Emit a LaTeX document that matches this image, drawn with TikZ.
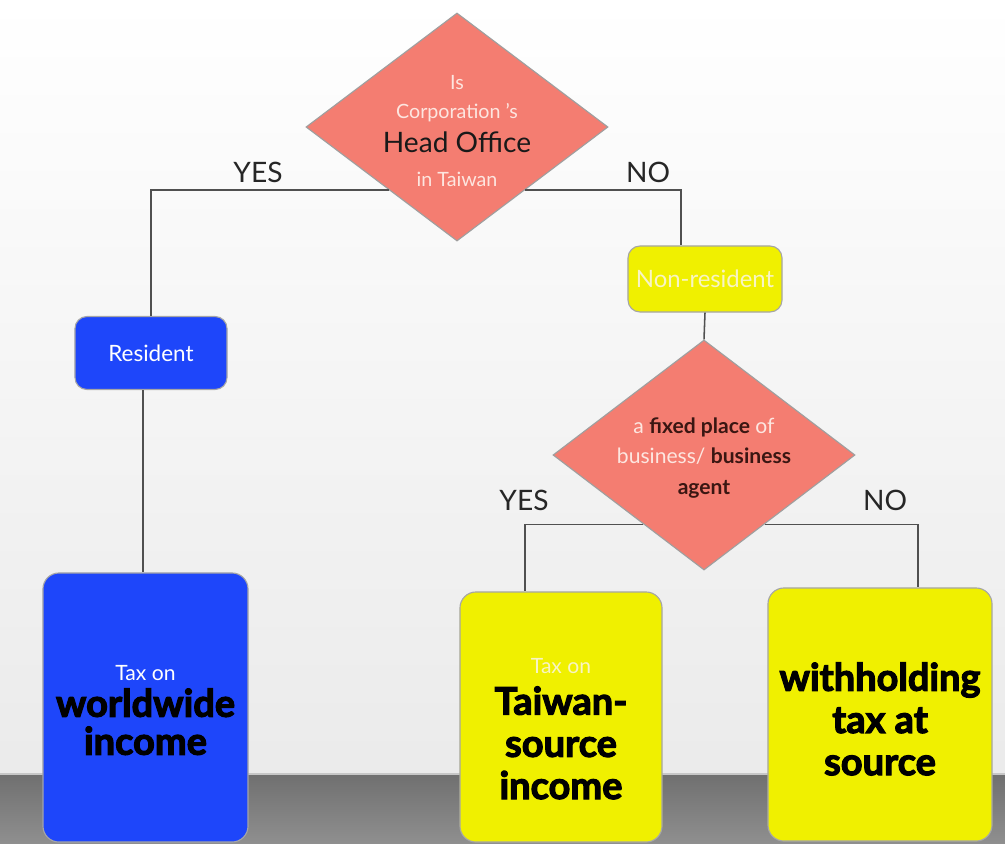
\documentclass[tikz,border=0pt]{standalone}
\usepackage{fontspec}
\setmainfont{Lato}
\newfontfamily\heavyfont{Lato}[FakeBold=3]
\usetikzlibrary{positioning, shapes.geometric, calc}

\definecolor{salmon}{HTML}{F47D71}
\definecolor{resblue}{HTML}{1E46FA}
\definecolor{boxyellow}{HTML}{F0F000}
\definecolor{palepink}{HTML}{FDE6E0}
\definecolor{paleyellow}{HTML}{F8F4C4}
\definecolor{darkred}{HTML}{3A1612}
\definecolor{linegray}{HTML}{505050}

\tikzset{
  decision/.style={diamond, draw=gray!75, line width=0.8pt, fill=salmon,
                   minimum width=7.55cm, minimum height=5.7cm, inner sep=0pt},
  smallbox/.style={rectangle, rounded corners=0.3cm, draw=gray!70, line width=0.8pt},
  bigbox/.style={rectangle, rounded corners=0.4cm, draw=gray!70, line width=0.8pt},
  heavy/.style={font=\heavyfont\bfseries\fontsize{27}{30}\selectfont, text=black},
  answer/.style={font=\fontsize{20}{24}\selectfont, text=black!85},
  link/.style={line width=1.1pt, draw=linegray}
}
\newcommand{\taxon}[1]{{\normalfont\fontsize{15}{16}\selectfont\color{#1}Tax on}}

\begin{document}
\begin{tikzpicture}[x=0.025cm, y=-0.025cm]
    \useasboundingbox (0,0) rectangle (1005,843);
    \clip (0,0) rectangle (1005,843);
    %% backdrop
    \shade[top color=white, bottom color=black!8] (0,0) rectangle (1005,775);
    \shade[top color=black!56, bottom color=black!44] (0,775) rectangle (1005,843);
    \draw[black!22, line width=0.8pt] (0,774) -- (1005,774);

    %% decisions
    \draw (457,127) node[decision] (q1) {}
          (457,131) node[align=center, font=\fontsize{14}{21}\selectfont] (q1txt)
              {\color{palepink}Is\\
               \color{palepink}Corporation 's\\[3pt]
               {\fontsize{20}{24}\selectfont\color{black!90}Head Office}\\[3pt]
               \color{palepink}in Taiwan};
    \draw (704,455) node[decision, minimum height=5.75cm] (q2) {}
          (704,458) node[align=center, font=\fontsize{15}{21.5}\selectfont] (q2txt)
              {{\color{palepink}a} {\bfseries\color{darkred}fixed place} {\color{palepink}of}\\
               {\color{palepink}business/} {\bfseries\color{darkred}business}\\
               {\bfseries\color{darkred}agent}};

    %% status boxes
    \draw (151,353) node[smallbox, fill=resblue, minimum width=3.8cm, minimum height=1.825cm,
                         text=white, font=\fontsize{16}{19}\selectfont] (res) {Resident}
          (705,279) node[smallbox, fill=boxyellow, minimum width=3.85cm, minimum height=1.65cm,
                         text=paleyellow, font=\fontsize{17}{20}\selectfont] (nonres) {Non-resident};

    %% outcome boxes
    \draw (145.5,707.5) node[bigbox, fill=resblue, minimum width=5.125cm, minimum height=6.725cm] (ww) {}
          (145.5,710) node[align=center, heavy, font=\heavyfont\bfseries\fontsize{27}{27}\selectfont] (wwtxt)
              {\taxon{white}\\[-1pt] worldwide\\ income}
          (561,717) node[bigbox, fill=boxyellow, minimum width=5.05cm, minimum height=6.25cm] (ts) {}
          (561,729) node[align=center, heavy] (tstxt)
              {\taxon{paleyellow}\\[-1pt] Taiwan-\\ source\\ income}
          (880,714.5) node[bigbox, fill=boxyellow, minimum width=5.6cm, minimum height=6.325cm] (wh) {}
          (880,719) node[align=center, heavy] (whtxt)
              {withholding\\ tax at\\ source};

    %% answers
    \draw (258,172) node[answer] (yes1) {YES}
          (648,172) node[answer] (no1) {NO}
          (524,500) node[answer] (yes2) {YES}
          (885,500) node[answer] (no2) {NO};

    %% connectors
    \draw[link] ($(q1.west)!0.55!(q1.south)$) -| (res.north);
    \draw[link] ($(q1.east)!0.55!(q1.south)$) -| ([xshift=-0.6cm]nonres.north);
    \draw[link] (nonres.south) -- (q2.north);
    \draw[link] ([xshift=-0.2cm]res.south) -- ([xshift=-0.2cm]res.south |- ww.north);
    \draw[link] ($(q2.west)!0.6!(q2.south)$) -| ([xshift=-0.9cm]ts.north);
    \draw[link] ($(q2.east)!0.6!(q2.south)$) -| ([xshift=0.95cm]wh.north);
\end{tikzpicture}
\end{document}
